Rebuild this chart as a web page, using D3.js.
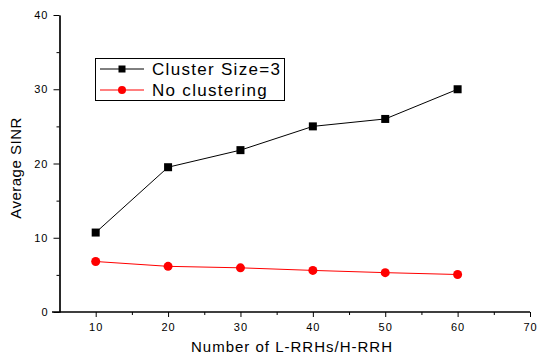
<!DOCTYPE html>
<html>
<head>
<script src="https://d3js.org/d3.v7.min.js"></script>
<style>
  body { margin: 0; background: #fff; }
  text { font-family: Arial, "Liberation Sans", sans-serif; fill: #000; }
</style>
</head>
<body>
<svg id="frame"></svg>
<script>
  // data
  var xValues = [10, 20, 30, 40, 50, 60];
  var clusterValues = [10.7, 19.5, 21.8, 25.0, 26.0, 30.0];
  var noClusterValues = [6.8, 6.15, 5.95, 5.6, 5.3, 5.05];
  var xTicks = [10, 20, 30, 40, 50, 60, 70];
  var xMinor = [15, 25, 35, 45, 55, 65];
  var yTicks = [0, 10, 20, 30, 40];
  var yMinor = [5, 15, 25, 35];
  var seriesNames = ["Cluster Size=3", "No clustering"];

  var width = 537, height = 356;
  var svg = d3.select('#frame').attr('width', width).attr('height', height);

  var x = d3.scaleLinear().domain([5, 70]).range([59.5, 530]);
  var y = d3.scaleLinear().domain([0, 40]).range([312, 15]);

  // x axis
  var gx = svg.append('g').attr('transform', 'translate(0,312)');
  gx.call(d3.axisBottom(x).tickValues(xTicks).tickSizeInner(5).tickSizeOuter(0).tickPadding(6));
  gx.append('g').call(d3.axisBottom(x).tickValues(xMinor).tickSize(3).tickSizeOuter(0).tickFormat(''));
  gx.selectAll('text').attr('font-size', 11).style('letter-spacing', '1px');
  gx.selectAll('path.domain').attr('stroke-width', 1.2).attr('d', 'M52,0H530');

  // y axis
  var gy = svg.append('g').attr('transform', 'translate(59.5,0)');
  gy.call(d3.axisLeft(y).tickValues(yTicks).tickSizeInner(6).tickSizeOuter(0).tickPadding(5));
  gy.append('g').call(d3.axisLeft(y).tickValues(yMinor).tickSize(3).tickSizeOuter(0).tickFormat(''));
  gy.selectAll('text').attr('font-size', 11).style('letter-spacing', '1px');
  gy.selectAll('path.domain').attr('stroke-width', 1.2);

  svg.selectAll('text').style('font-family', 'Arial, "Liberation Sans", sans-serif');

  // axis titles
  svg.append('text')
    .attr('x', 292).attr('y', 352)
    .attr('text-anchor', 'middle')
    .attr('font-size', 15)
    .style('letter-spacing', '1px')
    .text('Number of L-RRHs/H-RRH');

  svg.append('text')
    .attr('transform', 'translate(21,168) rotate(-90)')
    .attr('text-anchor', 'middle')
    .attr('font-size', 15)
    .style('letter-spacing', '0.5px')
    .text('Average SINR');

  var line = d3.line()
    .x(function(d, i){ return x(xValues[i]); })
    .y(function(d){ return y(d); });

  // black series
  svg.append('path')
    .attr('d', line(clusterValues))
    .attr('fill', 'none').attr('stroke', '#000').attr('stroke-width', 1);
  svg.append('g').selectAll('rect')
    .data(clusterValues)
    .enter().append('rect')
    .attr('x', function(d, i){ return x(xValues[i]) - 4; })
    .attr('y', function(d){ return y(d) - 4; })
    .attr('width', 8).attr('height', 8)
    .attr('fill', '#000');

  // red series
  svg.append('path')
    .attr('d', line(noClusterValues))
    .attr('fill', 'none').attr('stroke', '#ff0000').attr('stroke-width', 1);
  svg.append('g').selectAll('circle')
    .data(noClusterValues)
    .enter().append('circle')
    .attr('cx', function(d, i){ return x(xValues[i]); })
    .attr('cy', function(d){ return y(d); })
    .attr('r', 4.5)
    .attr('fill', '#ff0000');

  // legend
  var legend = svg.append('g');
  legend.append('rect')
    .attr('x', 95.5).attr('y', 58.5).attr('width', 189).attr('height', 42)
    .attr('fill', '#fff').attr('stroke', '#000').attr('stroke-width', 1);
  var legendRows = [69, 90];
  legendRows.forEach(function(ly, i){
    var col = i == 0 ? '#000' : '#ff0000';
    legend.append('line')
      .attr('x1', 100).attr('x2', 144).attr('y1', ly).attr('y2', ly)
      .attr('stroke', col).attr('stroke-width', 1);
    if (i == 0) {
      legend.append('rect').attr('x', 118.5).attr('y', ly - 3.5).attr('width', 7).attr('height', 7).attr('fill', col);
    } else {
      legend.append('circle').attr('cx', 122).attr('cy', ly).attr('r', 4).attr('fill', col);
    }
    legend.append('text')
      .attr('x', 152).attr('y', ly + 6)
      .attr('font-size', 17)
      .style('letter-spacing', '1.3px')
      .text(seriesNames[i]);
  });
</script>
</body>
</html>
